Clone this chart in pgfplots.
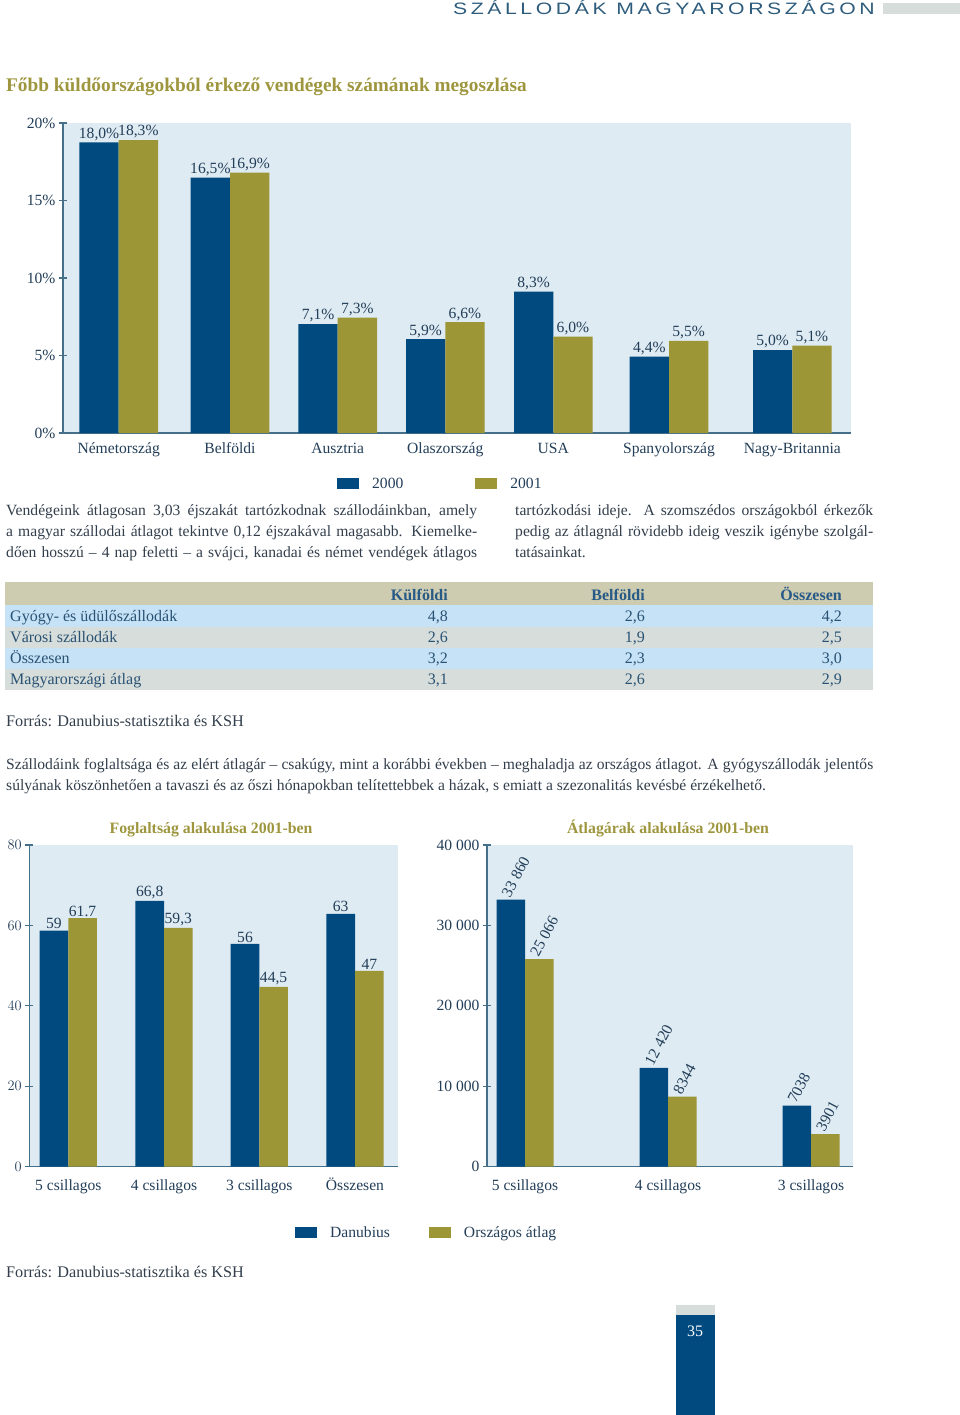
\documentclass[border=0pt]{standalone}
\usepackage{pgfplots}
\pgfplotsset{compat=1.18}
\usepackage{fontspec}
\setmainfont{Liberation Serif}
\newfontfamily\headfont[LetterSpace=17]{Liberation Sans}

\definecolor{barblue}{RGB}{0,74,127}
\definecolor{barolive}{RGB}{157,150,55}
\definecolor{bgblue}{RGB}{222,235,243}
\definecolor{axisc}{RGB}{70,112,138}
\definecolor{txt}{RGB}{35,62,88}
\definecolor{bodyc}{RGB}{50,62,75}
\definecolor{olivet}{RGB}{158,150,62}
\definecolor{headc}{RGB}{205,203,176}
\definecolor{rowb}{RGB}{197,226,247}
\definecolor{rowg}{RGB}{214,221,218}
\definecolor{thc}{RGB}{40,90,135}
\definecolor{tbc}{RGB}{42,82,115}
\definecolor{capc}{RGB}{46,92,124}

\newcommand\cf{\fontsize{15.6}{18}\selectfont}
\newcommand\bodyf{\fontsize{15.6}{18}\selectfont}
\newcommand\tabf{\fontsize{16}{18}\selectfont}

\pgfplotsset{
  pagebar/.style={
    scale only axis,
    anchor=south west,
    axis lines*=left,
    axis line style={axisc, line width=1.4pt},
    axis background/.style={fill=bgblue},
    ybar, ymin=0,
    scaled y ticks=false,
    xtick style={draw=none},
    ytick style={axisc, line width=1.2pt},
    tick align=center,
    major tick length=8pt,
    tick label style={font=\cf, text=txt},
    xticklabel style={text height=11pt, text depth=3pt},
    nodes near coords,
    point meta=explicit symbolic,
    every node near coord/.append style={font=\cf, text=txt, inner sep=1.5pt},
    clip=false,
    legend image code/.code={\fill[##1] (0pt,-5.5pt) rectangle (22pt,5.5pt);},
  },
  blueb/.style={fill=barblue, draw=none, bar shift=0pt},
  oliveb/.style={fill=barolive, draw=none, bar shift=0pt},
}

\begin{document}
\begin{tikzpicture}[x=1pt,y=1pt]
\path (0,0) rectangle (960,-1415);

% header
\node[anchor=base east, inner sep=0pt, text=capc] at (875,-15)
  {\scalebox{1.285}[1]{\headfont\fontsize{16.5}{18}\selectfont SZÁLLODÁK MAGYARORSZÁGON}};
\fill[rowg] (883,-3) rectangle (960,-14);

% title of first chart
\node[anchor=base west, inner sep=0pt, text=olivet] at (6,-92)
  {\fontsize{19.3}{21}\selectfont\bfseries Főbb küldőországokból érkező vendégek számának megoszlása};

% chart 1
\begin{axis}[pagebar,
  at={(63pt,-433pt)},
  width=788pt, height=310pt,
  xmin=63, xmax=851, ymax=20,
  ytick={0,5,10,15,20}, yticklabels={0\%,5\%,10\%,15\%,20\%},
  xtick={118.7,230,337.7,445.3,553.3,669,792.3},
  xticklabels={Németország,Belföldi,Ausztria,Olaszország,USA,Spanyolország,Nagy-Britannia},
  xticklabel style={yshift=-2pt},
  bar width=39.3,
  legend style={draw=none, fill=none, inner sep=0pt, legend columns=-1,
    at={(0.3477,-0.1645)}, anchor=west,
    nodes={inner sep=0pt, text=txt, font=\cf},
    /tikz/every odd column/.append style={column sep=13pt},
    /tikz/every even column/.append style={column sep=72pt}},
]
\addplot[blueb] table[col sep=semicolon, row sep=\\, meta=lab] {
x;y;lab\\
99.05;18.75;18,0\%\\
210.35;16.47;16,5\%\\
318.05;7.03;7,1\%\\
425.65;6.05;5,9\%\\
533.65;9.12;8,3\%\\
649.35;4.93;4,4\%\\
772.65;5.35;5,0\%\\
};
\addlegendentry{2000}
\addplot[oliveb] table[col sep=semicolon, row sep=\\, meta=lab] {
x;y;lab\\
138.35;18.9;18,3\%\\
249.65;16.8;16,9\%\\
357.35;7.45;7,3\%\\
464.95;7.15;6,6\%\\
572.95;6.22;6,0\%\\
688.65;5.94;5,5\%\\
811.95;5.63;5,1\%\\
};
\addlegendentry{2001}
\end{axis}

% paragraph 1
\begin{scope}[every node/.style={anchor=base west, inner sep=0pt, text=bodyc, font=\bodyf}]
\node at (6,-515) {\makebox[471pt][s]{Vendégeink átlagosan 3,03 éjszakát tartózkodnak szállodáinkban, amely}};
\node at (6,-536) {\makebox[471pt][s]{a magyar szállodai átlagot tekintve 0,12 éjszakával magasabb. Kiemelke-}};
\node at (6,-557) {\makebox[471pt][s]{dően hosszú – 4 nap feletti – a svájci, kanadai és német vendégek átlagos}};
\node at (515,-515) {\makebox[358pt][s]{tartózkodási ideje. A szomszédos országokból érkezők}};
\node at (515,-536) {\makebox[358pt][s]{pedig az átlagnál rövidebb ideig veszik igénybe szolgál-}};
\node at (515,-557) {tatásainkat.};
\end{scope}

% table
\fill[headc] (5,-582) rectangle (873,-605);
\fill[rowb] (5,-605) rectangle (873,-626.5);
\fill[rowg] (5,-626.5) rectangle (873,-648);
\fill[rowb] (5,-648) rectangle (873,-669);
\fill[rowg] (5,-669) rectangle (873,-690);
\begin{scope}[every node/.style={inner sep=0pt, text=tbc, font=\tabf}]
\node[anchor=base east, text=thc] at (448,-600) {\bfseries Külföldi};
\node[anchor=base east, text=thc] at (645,-600) {\bfseries Belföldi};
\node[anchor=base east, text=thc] at (842,-600) {\bfseries Összesen};
\node[anchor=base west] at (10,-621) {Gyógy- és üdülőszállodák};
\node[anchor=base west] at (10,-642) {Városi szállodák};
\node[anchor=base west] at (10,-663) {Összesen};
\node[anchor=base west] at (10,-684) {Magyarországi átlag};
\node[anchor=base east] at (448,-621) {4,8};
\node[anchor=base east] at (645,-621) {2,6};
\node[anchor=base east] at (842,-621) {4,2};
\node[anchor=base east] at (448,-642) {2,6};
\node[anchor=base east] at (645,-642) {1,9};
\node[anchor=base east] at (842,-642) {2,5};
\node[anchor=base east] at (448,-663) {3,2};
\node[anchor=base east] at (645,-663) {2,3};
\node[anchor=base east] at (842,-663) {3,0};
\node[anchor=base east] at (448,-684) {3,1};
\node[anchor=base east] at (645,-684) {2,6};
\node[anchor=base east] at (842,-684) {2,9};
\end{scope}

% sources and paragraph 2
\begin{scope}[every node/.style={anchor=base west, inner sep=0pt, text=bodyc, font=\bodyf}]
\node[font=\fontsize{16.2}{18}\selectfont] at (6,-726) {Forrás: Danubius-statisztika és KSH};
\node at (6,-769) {\makebox[867pt][s]{Szállodáink foglaltsága és az elért átlagár – csakúgy, mint a korábbi években – meghaladja az országos átlagot. A gyógyszállodák jelentős}};
\node at (6,-790) {súlyának köszönhetően a tavaszi és az őszi hónapokban telítettebbek a házak, s emiatt a szezonalitás kevésbé érzékelhető.};
\node[font=\fontsize{16.2}{18}\selectfont] at (6,-1277) {Forrás: Danubius-statisztika és KSH};
\end{scope}

% chart titles
\node[anchor=base, inner sep=0pt, text=olivet] at (211,-833) {\fontsize{15.8}{18}\selectfont\bfseries Foglaltság alakulása 2001-ben};
\node[anchor=base, inner sep=0pt, text=olivet] at (668,-833) {\fontsize{15.8}{18}\selectfont\bfseries Átlagárak alakulása 2001-ben};

% chart 2
\begin{axis}[pagebar,
  at={(29.3pt,-1166.7pt)},
  width=368.4pt, height=321.7pt,
  xmin=29.3, xmax=397.7, ymax=80,
  ytick={0,20,40,60,80},
  xtick={68.3,164,259.3,355},
  xticklabels={5 csillagos,4 csillagos,3 csillagos,Összesen},
  xticklabel style={yshift=-5pt},
  bar width=28.6,
  legend style={draw=none, fill=none, inner sep=0pt, legend columns=-1,
    at={(0.7212,-0.206)}, anchor=west,
    nodes={inner sep=0pt, text=txt, font=\cf},
    /tikz/every odd column/.append style={column sep=13pt},
    /tikz/every even column/.append style={column sep=39pt}},
]
\addplot[blueb] table[col sep=semicolon, row sep=\\, meta=lab] {
x;y;lab\\
54;58.7;59\\
149.7;66.1;66,8\\
245;55.4;56\\
340.7;62.9;63\\
};
\addlegendentry{Danubius}
\addplot[oliveb] table[col sep=semicolon, row sep=\\, meta=lab] {
x;y;lab\\
82.6;61.8;61.7\\
178.3;59.4;59,3\\
273.6;44.7;44,5\\
369.3;48.7;47\\
};
\addlegendentry{Országos átlag}
\end{axis}

% chart 3
\begin{axis}[pagebar,
  at={(487pt,-1166.7pt)},
  width=366pt, height=321.7pt,
  xmin=487, xmax=853, ymax=40000,
  ytick={0,10000,20000,30000,40000},
  yticklabels={0,10 000,20 000,30 000,40 000},
  xtick={525,668,811},
  xticklabels={5 csillagos,4 csillagos,3 csillagos},
  xticklabel style={yshift=-5pt},
  bar width=28.5,
  every node near coord/.append style={rotate=62, anchor=south west, inner sep=1pt},
]
\addplot[blueb] table[col sep=semicolon, row sep=\\, meta=lab] {
x;y;lab\\
510.75;33200;33 860\\
653.75;12300;12 420\\
796.75;7600;7038\\
};
\addplot[oliveb] table[col sep=semicolon, row sep=\\, meta=lab] {
x;y;lab\\
539.25;25800;25 066\\
682.25;8700;8344\\
825.25;4050;3901\\
};
\end{axis}

% page number
\fill[rowg] (675.5,-1305) rectangle (714.5,-1315);
\fill[barblue] (675.5,-1315) rectangle (714.5,-1415);
\node[text=white, inner sep=0pt] at (695,-1331) {\fontsize{16}{18}\selectfont 35};
\end{tikzpicture}
\end{document}
